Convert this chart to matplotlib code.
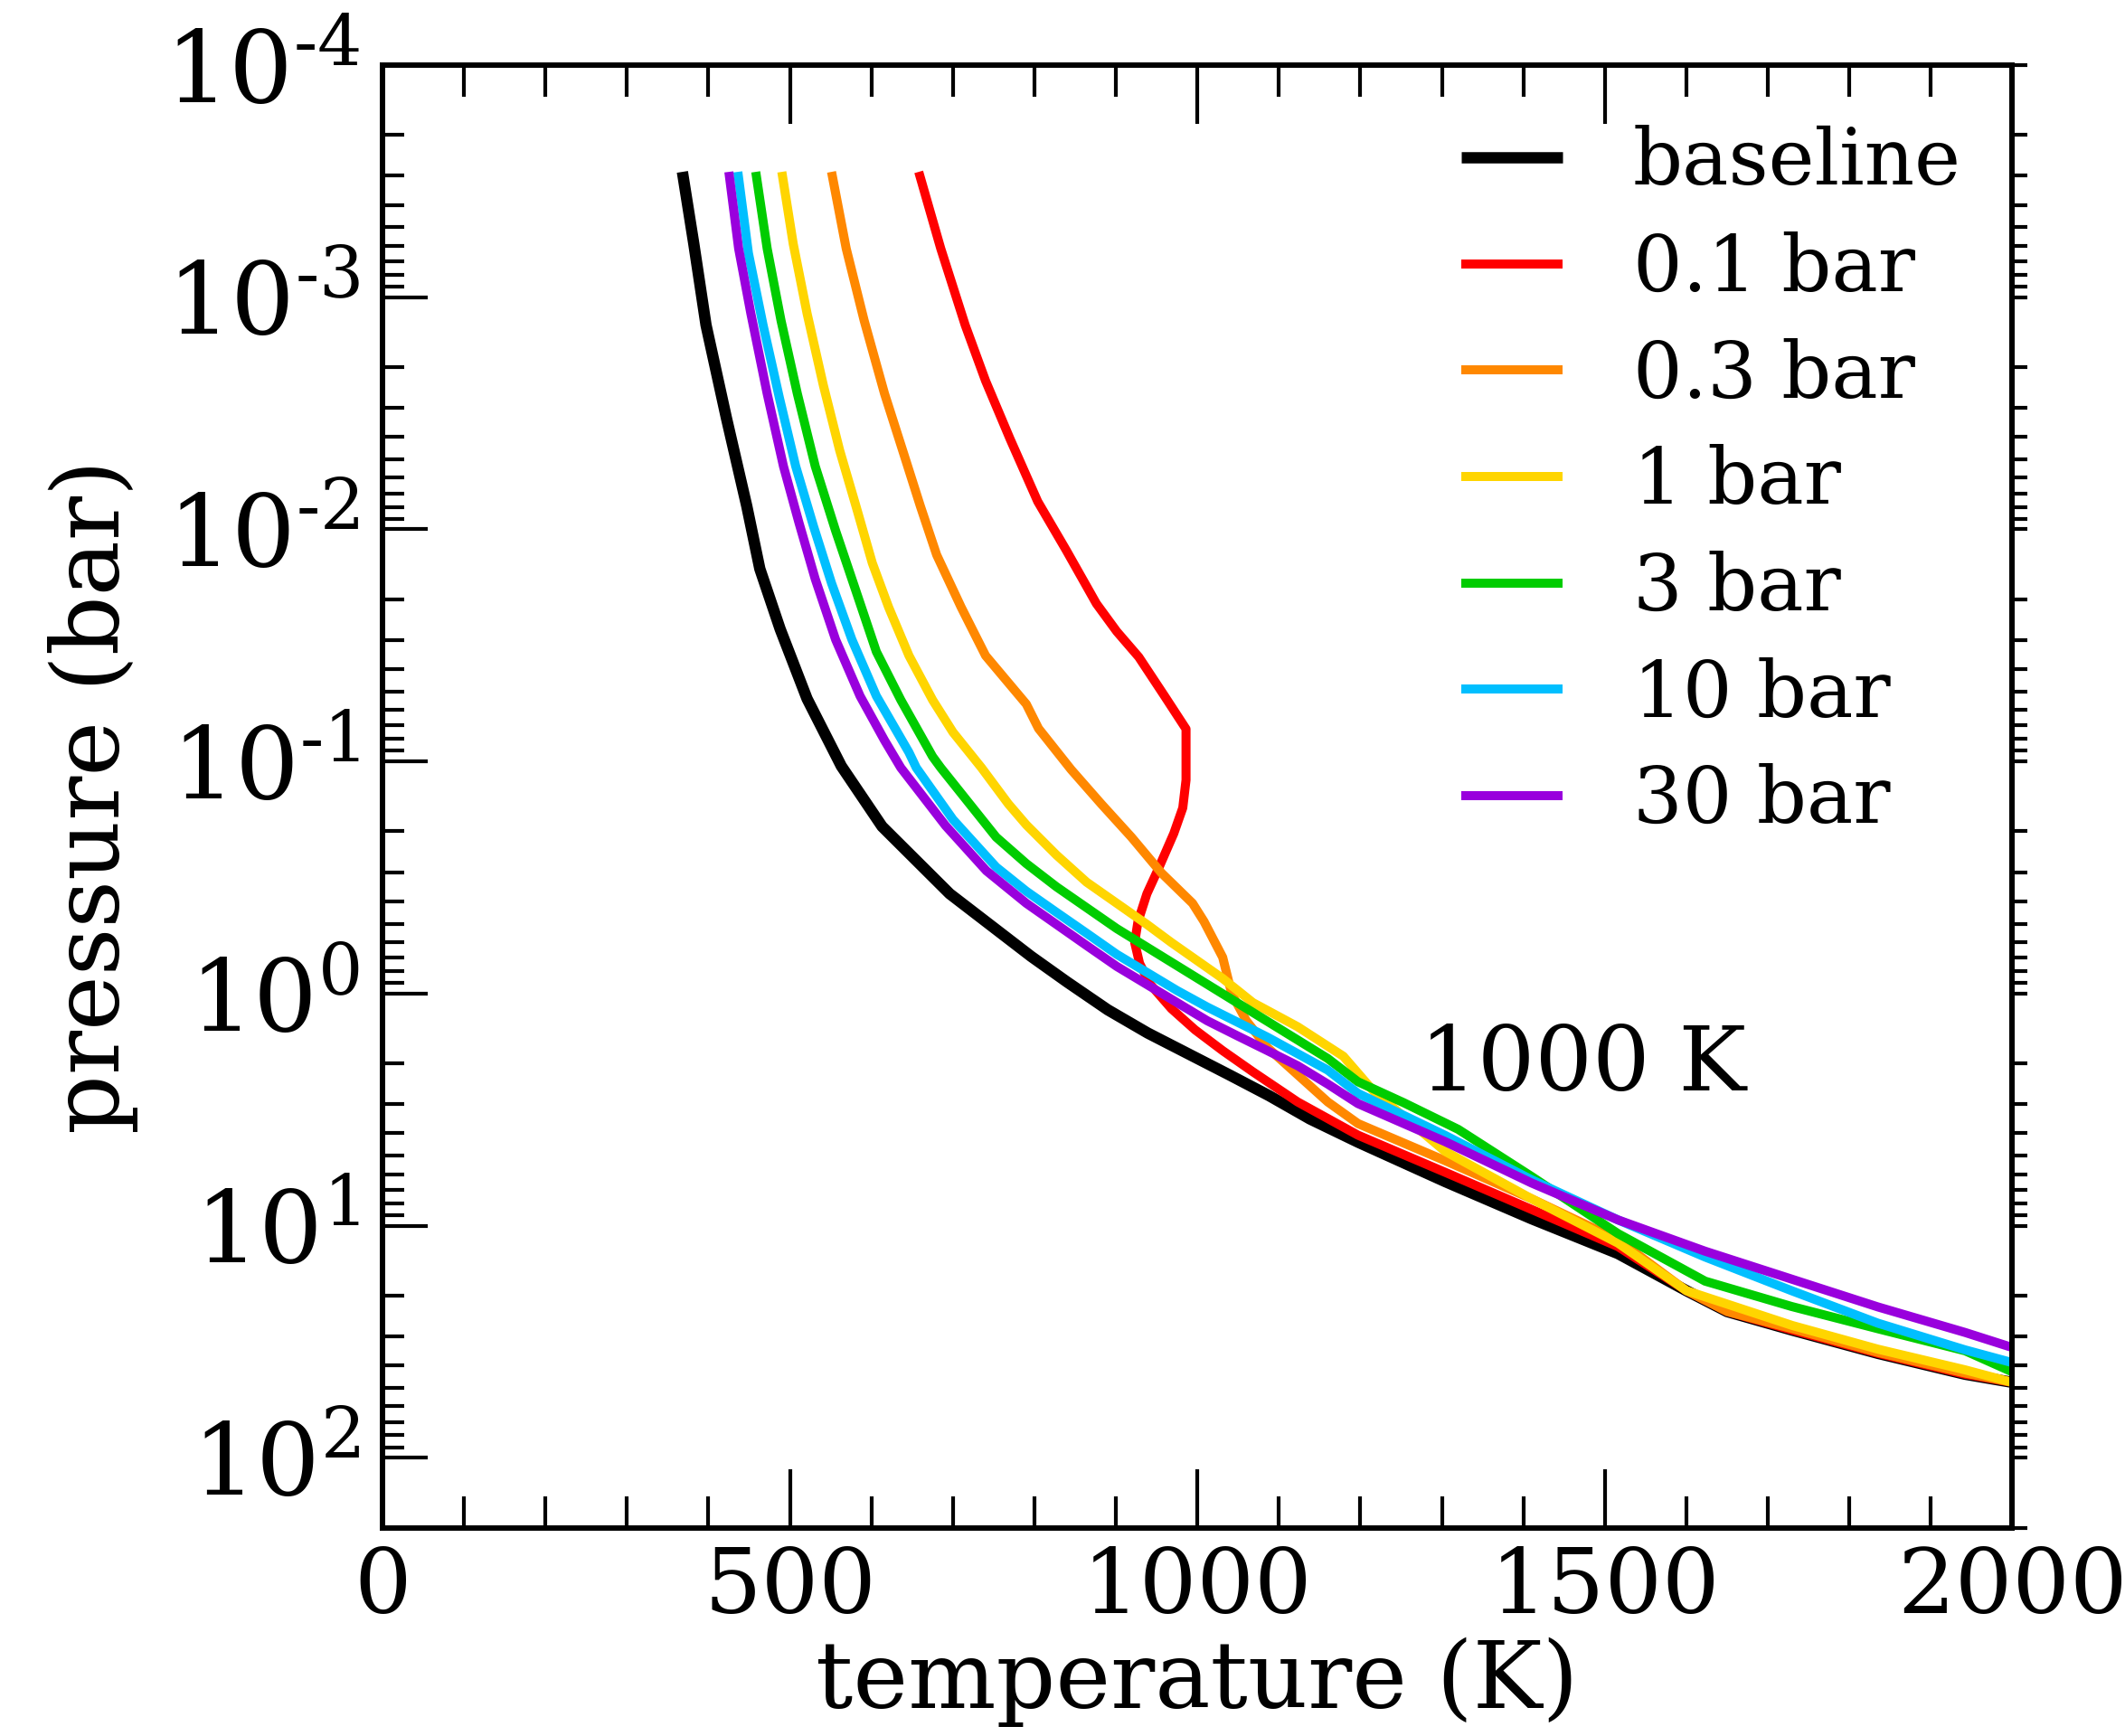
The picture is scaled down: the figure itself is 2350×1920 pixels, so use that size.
import matplotlib
matplotlib.use('Agg')
import matplotlib.pyplot as plt
import numpy as np
from matplotlib.ticker import FixedLocator, FixedFormatter, LogLocator, MultipleLocator, NullFormatter

plt.rcParams['font.family'] = ['DejaVu Serif']
plt.rcParams['mathtext.fontset'] = 'dejavuserif'

# temperature (K) and log10 pressure (bar)
t_base = [368, 382, 397, 422, 447, 463, 488, 521, 563, 613, 696, 796, 840, 890, 939, 989,
          1039, 1088, 1138, 1197, 1304, 1410, 1516, 1600, 1650, 1730, 1835, 1942, 2000]
lp_base = [-3.54, -3.23, -2.88, -2.48, -2.10, -1.83, -1.57, -1.27, -0.98, -0.72, -0.43, -0.16,
           -0.05, 0.07, 0.17, 0.26, 0.35, 0.44, 0.54, 0.64, 0.81, 0.97, 1.12, 1.28, 1.37,
           1.45, 1.55, 1.64, 1.675]

t_01 = [658, 685, 715, 740, 770, 804, 839, 876, 901, 928, 960, 986, 986, 982, 971, 953, 938, 927,
        923, 929, 942, 968, 997, 1031, 1068, 1123, 1197, 1304, 1410, 1516, 1600, 1650, 1730, 1835,
        1942, 2000]
lp_01 = [-3.54, -3.21, -2.88, -2.64, -2.39, -2.12, -1.91, -1.68, -1.56, -1.45, -1.28, -1.14, -0.92,
         -0.80, -0.69, -0.545, -0.43, -0.31, -0.22, -0.13, -0.04, 0.065, 0.156, 0.246, 0.337, 0.467,
         0.61, 0.77, 0.93, 1.09, 1.28, 1.37, 1.45, 1.55, 1.64, 1.675]

t_03 = [551, 569, 591, 616, 641, 660, 680, 710, 740, 790, 805, 845, 882, 919, 956, 994, 1008, 1031,
        1042, 1060, 1086, 1123, 1160, 1197, 1304, 1410, 1516, 1600, 1650, 1730, 1835, 1942, 2000]
lp_03 = [-3.54, -3.21, -2.90, -2.585, -2.31, -2.10, -1.89, -1.665, -1.456, -1.247, -1.142, -0.965,
         -0.817, -0.674, -0.519, -0.389, -0.311, -0.156, 0.0, 0.117, 0.233, 0.35, 0.467, 0.56, 0.72,
         0.884, 1.061, 1.28, 1.37, 1.444, 1.546, 1.635, 1.675]

t_1 = [490, 504, 521, 541, 561, 581, 601, 621, 646, 675, 700, 735, 768, 790, 827, 864, 901, 938,
       968, 994, 1031, 1068, 1123, 1179, 1216, 1304, 1410, 1516, 1600, 1730, 1835, 1942, 2000]
lp_1 = [-3.54, -3.23, -2.93, -2.62, -2.34, -2.10, -1.855, -1.665, -1.456, -1.265, -1.126, -0.973,
        -0.817, -0.727, -0.597, -0.48, -0.389, -0.298, -0.22, -0.156, -0.065, 0.039, 0.143, 0.27,
        0.42, 0.68, 0.884, 1.075, 1.28, 1.43, 1.532, 1.621, 1.675]

t_3 = [458, 472, 489, 509, 531, 556, 581, 606, 636, 675, 685, 753, 790, 827, 864, 901, 938, 975,
       1012, 1049, 1086, 1123, 1160, 1197, 1253, 1320, 1410, 1516, 1623, 1729, 1835, 1942, 2000]
lp_3 = [-3.54, -3.21, -2.90, -2.585, -2.272, -1.994, -1.734, -1.473, -1.265, -1.021, -0.973, -0.674,
        -0.56, -0.46, -0.37, -0.28, -0.20, -0.12, -0.04, 0.04, 0.12, 0.20, 0.28, 0.38, 0.47, 0.585,
        0.788, 1.034, 1.239, 1.348, 1.444, 1.539, 1.63]

t_10 = [436, 449, 467, 487, 507, 529, 551, 576, 606, 646, 655, 700, 753, 790, 827, 864, 901, 938,
        975, 1012, 1049, 1086, 1123, 1160, 1197, 1304, 1410, 1516, 1623, 1729, 1835, 1942, 2000]
lp_10 = [-3.54, -3.19, -2.88, -2.567, -2.272, -2.012, -1.768, -1.525, -1.282, -1.039, -0.973, -0.75,
         -0.545, -0.441, -0.35, -0.26, -0.169, -0.091, -0.013, 0.058, 0.123, 0.188, 0.259, 0.33,
         0.43, 0.611, 0.802, 0.975, 1.135, 1.28, 1.42, 1.535, 1.59]

t_30 = [425, 437, 452, 472, 492, 511, 531, 556, 586, 616, 636, 691, 741, 790, 827, 864, 901, 938,
        975, 1012, 1049, 1086, 1123, 1160, 1197, 1304, 1410, 1516, 1623, 1729, 1835, 1942, 2000]
lp_30 = [-3.54, -3.21, -2.93, -2.585, -2.272, -2.029, -1.786, -1.525, -1.282, -1.091, -0.973, -0.723,
         -0.529, -0.389, -0.298, -0.207, -0.117, -0.039, 0.039, 0.117, 0.182, 0.246, 0.311, 0.39,
         0.474, 0.638, 0.816, 0.975, 1.11, 1.23, 1.35, 1.46, 1.525]

labels = ['baseline', '0.1 bar', '0.3 bar', '1 bar', '3 bar', '10 bar', '30 bar']
colors = ['black', '#ff0000', '#ff8800', '#ffd500', '#00cc00', '#00bfff', '#9900dd']
temps = [t_base, t_01, t_03, t_1, t_3, t_10, t_30]
logps = [lp_base, lp_01, lp_03, lp_1, lp_3, lp_10, lp_30]

fig = plt.figure(figsize=(23.5, 19.2), dpi=100)
ax = fig.add_axes([0.18, 0.12, 0.767, 0.8425])

for t, lp, c, lab in zip(temps, logps, colors, labels):
    lw = 9 if lab == 'baseline' else 7.2
    ax.plot(t, 10 ** np.array(lp), color=c, lw=lw, label=lab, solid_capstyle='butt')

ax.set_yscale('log')
ax.set_xlim(0, 2000)
ax.set_ylim(200, 1e-4)

ax.xaxis.set_major_locator(MultipleLocator(500))
ax.xaxis.set_minor_locator(MultipleLocator(100))
ax.yaxis.set_major_locator(FixedLocator([1e-4, 1e-3, 1e-2, 1e-1, 1, 10, 100]))
ax.yaxis.set_major_formatter(FixedFormatter([r'$10^{\text{-}4}$', r'$10^{\text{-}3}$',
                                             r'$10^{\text{-}2}$', r'$10^{\text{-}1}$',
                                             r'$10^{0}$', r'$10^{1}$', r'$10^{2}$']))
ax.yaxis.set_minor_locator(LogLocator(base=10, subs=np.arange(2, 10), numticks=20))
ax.yaxis.set_minor_formatter(NullFormatter())

ax.tick_params(axis='x', which='major', direction='in', length=47, width=3, top=True,
               labelsize=72, pad=14)
ax.tick_params(axis='x', which='minor', direction='in', length=25, width=3, top=True)
ax.tick_params(axis='y', which='major', direction='in', length=36, width=3, right=True,
               labelsize=80, pad=18)
ax.tick_params(axis='y', which='minor', direction='in', length=17, width=3, right=True)
for sp in ax.spines.values():
    sp.set_linewidth(4.3)

# outward stubs on the right edge
ax2 = ax.twinx()
ax2.set_yscale('log')
ax2.set_ylim(200, 1e-4)
ax2.yaxis.set_major_locator(FixedLocator([1e-4, 1e-3, 1e-2, 1e-1, 1, 10, 100]))
ax2.yaxis.set_minor_locator(LogLocator(base=10, subs=np.arange(2, 10), numticks=20))
ax2.tick_params(axis='y', which='both', direction='out', length=12, width=3,
                labelright=False)
ax2.spines['right'].set_linewidth(4.3)

ax.set_xlabel('temperature (K)', fontsize=74)
ax.set_ylabel('pressure (bar)', fontsize=74)
ax.xaxis.set_label_coords(0.5, -0.075)
ax.yaxis.set_label_coords(-0.15, 0.5)

ax.text(1273, 10 ** 0.416, '1000 K', fontsize=72, ha='left', va='baseline')

ax.legend(loc='upper left', bbox_to_anchor=(0.662, 0.9585), frameon=False, fontsize=62,
          handlelength=1.3, handletextpad=0.9, labelspacing=0.40, borderpad=0,
          borderaxespad=0)

fig.savefig('out.png', dpi=100)
